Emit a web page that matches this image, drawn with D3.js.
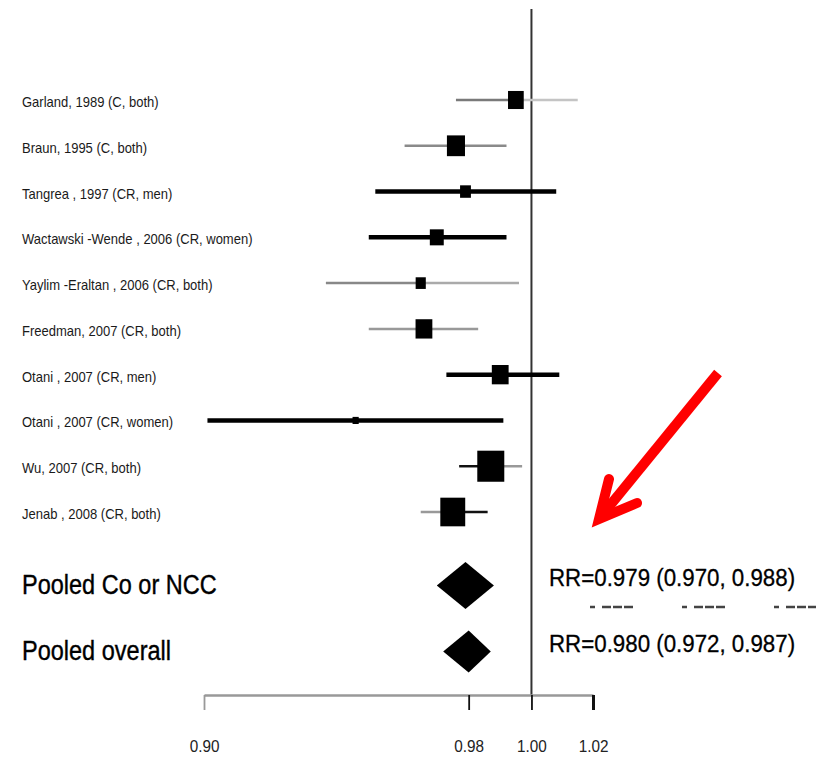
<!DOCTYPE html>
<html>
<head>
<meta charset="utf-8">
<script src="https://cdn.jsdelivr.net/npm/d3@7"></script>
<style>
  html, body { margin: 0; padding: 0; background: #fff; }
  svg { display: block; font-family: "Liberation Sans", Arial, sans-serif; }
</style>
</head>
<body>
<div id="chart"></div>
<script>
// Forest plot - relative risk per study, pooled estimates at the bottom

const studies = [
  "Garland, 1989 (C, both)",
  "Braun, 1995 (C, both)",
  "Tangrea , 1997 (CR, men)",
  "Wactawski -Wende , 2006 (CR, women)",
  "Yaylim -Eraltan , 2006 (CR, both)",
  "Freedman, 2007 (CR, both)",
  "Otani , 2007 (CR, men)",
  "Otani , 2007 (CR, women)",
  "Wu, 2007 (CR, both)",
  "Jenab , 2008 (CR, both)"
];
const rr    = [0.995, 0.976, 0.979, 0.970, 0.965, 0.966, 0.990, 0.945, 0.987, 0.975];
const lower = [0.976, 0.960, 0.951, 0.949, 0.936, 0.949, 0.973, 0.901, 0.977, 0.965];
const upper = [1.015, 0.992, 1.008, 0.992, 0.996, 0.983, 1.009, 0.991, 0.997, 0.986];
const weight = [8.4, 11.1, 4.0, 6.6, 3.5, 9.6, 9.6, 1.3, 24.8, 21.1];

const pooledLabels = ["Pooled Co or NCC", "Pooled overall"];
const pooledRR    = [0.979, 0.980];
const pooledLower = [0.970, 0.972];
const pooledUpper = [0.988, 0.987];

const tickValues = [0.90, 0.98, 1.00, 1.02];

const width = 821, height = 759;

const svg = d3.select("#chart").append("svg")
    .attr("width", width)
    .attr("height", height);

const x = d3.scaleLog().domain([0.90, 1.02]).range([204, 593]);
const y = d3.scalePoint().domain(studies).range([100, 512]);
const yPooled = d3.scalePoint().domain(pooledLabels).range([585.5, 651.5]);
const side = d3.scaleSqrt().domain([0, d3.max(weight)]).range([0, 27]);

// line look of each CI: [stroke width, colour left of estimate, colour right of estimate]
const ciLook = [
  [2.5, "#7a7a7a", "#c4c4c4"],
  [2.5, "#8a8a8a", "#8a8a8a"],
  [4.5, "#000", "#000"],
  [4.5, "#000", "#000"],
  [2.5, "#888", "#aaa"],
  [2.5, "#999", "#999"],
  [4.5, "#000", "#000"],
  [4.5, "#000", "#000"],
  [2.5, "#111", "#999"],
  [2.5, "#999", "#111"]
];

const rows = studies.map((s, i) => ({
  label: s, rr: rr[i], lo: lower[i], hi: upper[i], w: weight[i], look: ciLook[i]
}));

// reference line at RR = 1
svg.append("line")
    .attr("x1", x(1)).attr("x2", x(1))
    .attr("y1", 9).attr("y2", 696)
    .attr("stroke", "#333")
    .attr("stroke-width", 2);

// study labels
svg.append("g").selectAll("text")
  .data(rows)
  .join("text")
    .attr("transform", d => `translate(22,${y(d.label) + 7}) scale(0.93,1)`)
    .attr("font-size", 14)
    .attr("fill", "#1a1a1a")
    .text(d => d.label);

// CI lines (two halves)
const ci = svg.append("g");
ci.selectAll("line.left")
  .data(rows)
  .join("line")
    .attr("class", "left")
    .attr("x1", d => x(d.lo)).attr("x2", d => x(d.rr))
    .attr("y1", d => y(d.label)).attr("y2", d => y(d.label))
    .attr("stroke", d => d.look[1])
    .attr("stroke-width", d => d.look[0]);
ci.selectAll("line.right")
  .data(rows)
  .join("line")
    .attr("class", "right")
    .attr("x1", d => x(d.rr)).attr("x2", d => x(d.hi))
    .attr("y1", d => y(d.label)).attr("y2", d => y(d.label))
    .attr("stroke", d => d.look[2])
    .attr("stroke-width", d => d.look[0]);

// weight squares
svg.append("g").selectAll("rect")
  .data(rows)
  .join("rect")
    .attr("x", d => x(d.rr) - side(d.w) / 2)
    .attr("y", d => y(d.label) - side(d.w) * 1.15 / 2)
    .attr("width", d => side(d.w))
    .attr("height", d => side(d.w) * 1.15)
    .attr("fill", "#000");

// pooled rows
const pooled = pooledLabels.map((p, i) => ({
  label: p, rr: pooledRR[i], lo: pooledLower[i], hi: pooledUpper[i]
}));
const diamondH = [47, 42];

svg.append("g").selectAll("path")
  .data(pooled)
  .join("path")
    .attr("d", (d, i) => {
      const cy = yPooled(d.label), h = diamondH[i] / 2;
      return `M${x(d.lo)},${cy}L${x(d.rr)},${cy - h}L${x(d.hi)},${cy}L${x(d.rr)},${cy + h}Z`;
    })
    .attr("fill", "#000");

svg.append("g").selectAll("text")
  .data(pooled)
  .join("text")
    .attr("transform", d => `translate(22,${yPooled(d.label) + 8}) scale(0.84,1)`)
    .attr("font-size", 28)
    .attr("fill", "#000")
    .attr("stroke", "#000")
    .attr("stroke-width", 0.4)
    .text(d => d.label);

svg.append("g").selectAll("text")
  .data(pooled)
  .join("text")
    .attr("transform", d => `translate(549,${yPooled(d.label)}) scale(0.93,1)`)
    .attr("font-size", 24)
    .attr("fill", "#000")
    .attr("stroke", "#000")
    .attr("stroke-width", 0.3)
    .text(d => `RR=${d.rr.toFixed(3)} (${d.lo.toFixed(3)}, ${d.hi.toFixed(3)})`);

// dashed separator under the first pooled text
svg.append("line")
    .attr("x1", 590).attr("x2", 816)
    .attr("y1", 607).attr("y2", 607)
    .attr("stroke", "#444")
    .attr("stroke-width", 2.5)
    .attr("stroke-dasharray", "5,7,9,2,9,2,9,49");

// x axis
const axis = svg.append("g")
    .attr("transform", "translate(0,695)")
    .call(d3.axisBottom(x)
      .tickValues(tickValues)
      .tickSize(15)
      .tickSizeOuter(0)
      .tickFormat(d3.format(".2f")));

axis.select(".domain")
    .attr("stroke", "#999")
    .attr("stroke-width", 2.5);
axis.selectAll(".tick line")
    .attr("stroke", (d, i) => i === 0 ? "#999" : "#111")
    .attr("stroke-width", (d, i) => i === tickValues.length - 1 ? 3 : 1.8);
axis.selectAll(".tick text")
    .attr("y", 57)
    .attr("dy", 0)
    .attr("transform", "scale(0.9,1)")
    .attr("font-size", 17)
    .attr("font-family", "\"Liberation Sans\", Arial, sans-serif")
    .attr("fill", "#222");

// red arrow annotation
const arrow = svg.append("g")
    .attr("fill", "none")
    .attr("stroke", "#ff0000")
    .attr("stroke-width", 10);
arrow.append("line")
    .attr("x1", 718).attr("y1", 373)
    .attr("x2", 603).attr("y2", 514);
arrow.append("path")
    .attr("d", "M609,479L599,519L637,503")
    .attr("stroke-linecap", "round")
    .attr("stroke-linejoin", "miter");
</script>
</body>
</html>
